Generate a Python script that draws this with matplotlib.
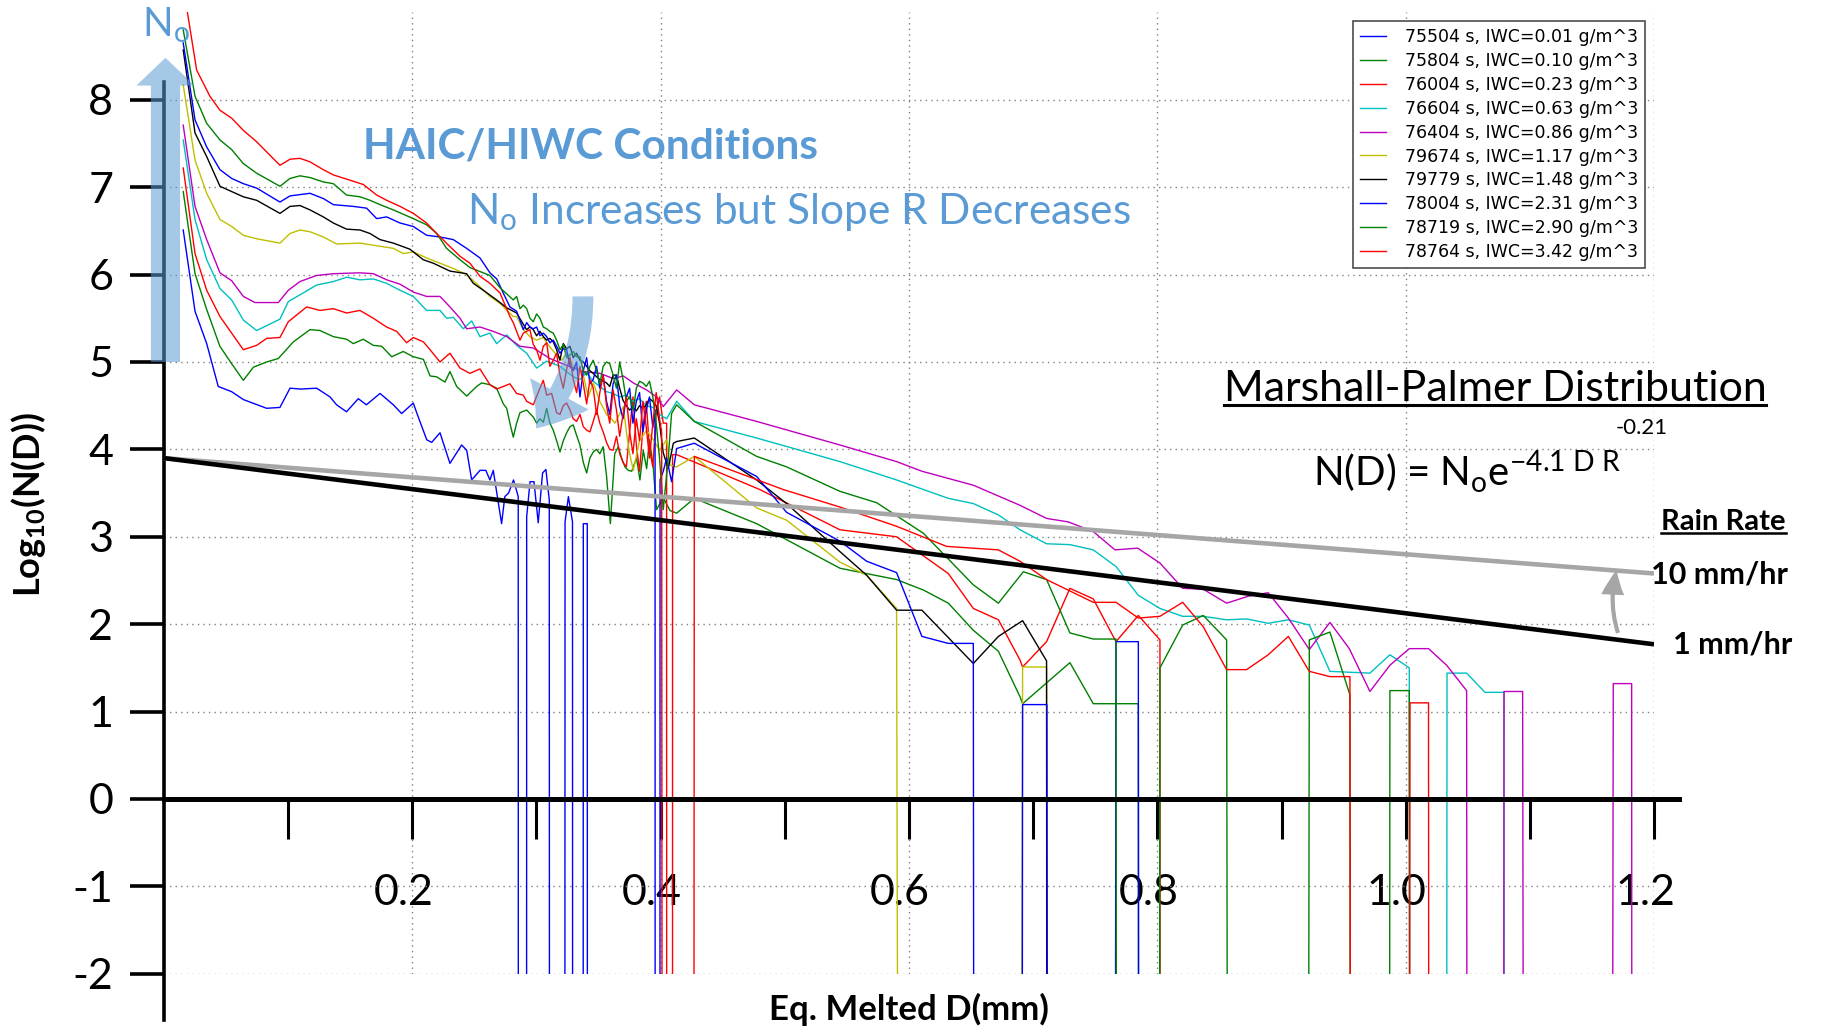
import numpy as np
import matplotlib
matplotlib.use('Agg')
import matplotlib.pyplot as plt
from matplotlib.patches import FancyArrowPatch
from matplotlib.lines import Line2D
from matplotlib.transforms import ScaledTranslation

plt.rcParams['font.family'] = 'Lato'
plt.rcParams['mathtext.fontset'] = 'custom'
plt.rcParams['mathtext.rm'] = 'Lato'
plt.rcParams['mathtext.bf'] = 'Lato:bold'
plt.rcParams['mathtext.it'] = 'Lato:italic'
plt.rcParams['axes.unicode_minus'] = False

# log10 of an empty size bin -> the line drops off the bottom of the plot
E = -300.0

# (D in mm, log10 N(D))
s75504 = [(0.0155, 6.51), (0.025, 5.58), (0.0344, 5.21), (0.0437, 4.72), (0.0545, 4.66), (0.0639, 4.57),
          (0.0827, 4.47), (0.0934, 4.48), (0.1015, 4.70), (0.110, 4.69), (0.123, 4.70), (0.1337, 4.60),
          (0.139, 4.51), (0.147, 4.43), (0.1565, 4.58), (0.163, 4.51), (0.174, 4.64), (0.1847, 4.51),
          (0.1914, 4.41), (0.2008, 4.53), (0.2035, 4.42), (0.2116, 4.11), (0.2156, 4.08), (0.2223, 4.19),
          (0.2303, 3.84), (0.2397, 4.05), (0.2438, 3.99), (0.2478, 3.65), (0.2545, 3.76), (0.2592, 3.76),
          (0.2625, 3.65), (0.2652, 3.76), (0.2719, 3.15), (0.2745, 3.46), (0.2775, 3.50), (0.2815, 3.65),
          (0.2853, 3.46), (0.2887, E), (0.2921, 3.23), (0.2948, 3.63), (0.2980, 3.63), (0.3014, 3.16),
          (0.3049, 3.73), (0.3076, 3.77), (0.3103, 3.42), (0.317, E), (0.323, 3.17), (0.3257, 3.46),
          (0.329, 3.17), (0.333, E), (0.3377, 3.15), (0.3409, 3.15), (0.345, E)]

s75804 = [(0.0155, 6.95), (0.025, 6.01), (0.0344, 5.60), (0.045, 5.18), (0.0545, 4.98), (0.0639, 4.79),
          (0.072, 4.94), (0.0827, 5.00), (0.0921, 5.04), (0.1042, 5.23), (0.1176, 5.37), (0.1256, 5.36),
          (0.1364, 5.29), (0.1471, 5.26), (0.1525, 5.21), (0.1605, 5.26), (0.1686, 5.19), (0.1753, 5.18),
          (0.1834, 5.06), (0.1927, 5.12), (0.2008, 5.06), (0.2089, 5.03), (0.2143, 4.84), (0.2196, 4.83),
          (0.2263, 4.77), (0.2303, 4.89), (0.2357, 4.72), (0.2438, 4.61), (0.2518, 4.72), (0.2558, 4.76),
          (0.2625, 4.74), (0.2679, 4.70), (0.2733, 4.52), (0.2760, 4.47), (0.2786, 4.30), (0.2813, 4.14),
          (0.2840, 4.30), (0.2867, 4.42), (0.2921, 4.45), (0.2974, 4.37), (0.3001, 4.30), (0.3028, 4.35),
          (0.3055, 4.31), (0.3082, 4.47), (0.3108, 4.30), (0.3135, 4.22), (0.3162, 4.10), (0.3189, 3.97),
          (0.3216, 4.10), (0.3243, 4.19), (0.3270, 4.26), (0.3296, 4.28), (0.3323, 4.16), (0.3350, 4.05),
          (0.3377, 3.85), (0.3404, 3.73), (0.3430, 3.90), (0.3457, 3.97), (0.3484, 4.00), (0.3510, 3.95),
          (0.3537, 4.03), (0.3564, 3.70), (0.3595, 3.15), (0.3630, 3.95), (0.3659, 4.03), (0.3686, 3.90),
          (0.3712, 3.80), (0.3739, 3.76), (0.3767, 3.75), (0.3806, 3.90), (0.3833, 3.65), (0.3860, 3.99),
          (0.3887, 3.78), (0.3910, 4.11), (0.3940, 3.80), (0.3967, 3.31), (0.4021, 3.45), (0.4075, 3.30),
          (0.4129, 3.27), (0.4271, 3.44), (0.4773, 3.15), (0.5444, 2.64), (0.5901, 2.51), (0.6117, 2.39),
          (0.6317, 2.24), (0.6518, 1.93), (0.6720, 1.69), (0.6894, 1.17), (0.6915, 1.09), (0.7296, 1.56),
          (0.7484, 1.09), (0.7847, 1.09), (0.800, E)]

s76004 = [(0.0155, 7.22), (0.025, 6.24), (0.0344, 5.82), (0.0451, 5.52), (0.0545, 5.33), (0.0639, 5.14),
          (0.0746, 5.19), (0.0827, 5.27), (0.0934, 5.28), (0.1001, 5.46), (0.1149, 5.63), (0.1256, 5.59),
          (0.1364, 5.61), (0.1471, 5.56), (0.1578, 5.59), (0.1686, 5.50), (0.1793, 5.40), (0.1874, 5.35),
          (0.1954, 5.22), (0.2008, 5.28), (0.2089, 5.23), (0.2143, 5.14), (0.2223, 5.00), (0.2303, 5.10),
          (0.2384, 4.93), (0.2464, 4.87), (0.2545, 4.92), (0.2625, 4.74), (0.2679, 4.69), (0.2733, 4.72),
          (0.2786, 4.75), (0.2840, 4.64), (0.2894, 4.62), (0.2921, 4.55), (0.2974, 4.51), (0.3028, 4.70),
          (0.3055, 4.79), (0.3082, 4.62), (0.3122, 4.64), (0.3162, 4.42), (0.3189, 4.40), (0.3216, 4.50),
          (0.3243, 4.53), (0.3270, 4.45), (0.3296, 4.35), (0.3323, 4.32), (0.3350, 4.40), (0.3377, 4.26),
          (0.3404, 4.22), (0.3430, 4.20), (0.3457, 4.32), (0.3484, 4.45), (0.3510, 4.30), (0.3537, 4.20),
          (0.3564, 4.08), (0.3590, 4.00), (0.3617, 3.99), (0.3644, 4.15), (0.3670, 3.95), (0.3697, 3.85),
          (0.3724, 3.80), (0.3750, 4.20), (0.3777, 4.60), (0.3804, 4.05), (0.3830, 3.75), (0.3857, 4.25),
          (0.3884, 4.55), (0.3910, 4.00), (0.3937, 3.80), (0.3964, 4.40), (0.3991, 4.60), (0.4021, 4.30),
          (0.4048, 4.30), (0.4070, E), (0.4096, 3.94), (0.4129, 3.94), (0.4799, 3.54), (0.5444, 3.08),
          (0.5900, 3.00), (0.6316, 2.58), (0.6518, 2.18), (0.6720, 2.05), (0.6894, 1.59), (0.6915, 1.51),
          (0.7108, 1.80), (0.7296, 2.41), (0.7484, 2.29), (0.7667, 1.80), (0.7847, 2.10), (0.8021, 1.82),
          (0.8100, E)]

s76604 = [(0.0155, 7.54), (0.025, 6.63), (0.0344, 6.17), (0.0451, 5.84), (0.0545, 5.71), (0.0639, 5.48),
          (0.0746, 5.36), (0.0934, 5.49), (0.1001, 5.69), (0.1229, 5.88), (0.1364, 5.92), (0.1471, 5.97),
          (0.1578, 5.94), (0.1686, 5.95), (0.1793, 5.90), (0.1901, 5.82), (0.2008, 5.75), (0.2115, 5.59),
          (0.2223, 5.59), (0.2276, 5.50), (0.2330, 5.51), (0.2411, 5.38), (0.2478, 5.47), (0.2545, 5.29),
          (0.2625, 5.33), (0.2679, 5.21), (0.2760, 5.31), (0.2840, 5.19), (0.2921, 5.10), (0.3001, 4.93),
          (0.3082, 5.01), (0.3189, 4.95), (0.3296, 4.83), (0.3350, 4.80), (0.3404, 4.88), (0.3457, 4.78),
          (0.3510, 4.72), (0.3564, 4.66), (0.3617, 4.64), (0.3670, 4.60), (0.3724, 4.62), (0.3777, 4.55),
          (0.3830, 4.58), (0.3884, 4.50), (0.3937, 4.48), (0.3991, 4.40), (0.4048, 4.35), (0.4129, 4.55),
          (0.4271, 4.32), (0.4773, 4.13), (0.5444, 3.86), (0.5900, 3.65), (0.6316, 3.44), (0.6518, 3.38),
          (0.6720, 3.25), (0.6894, 3.08), (0.7108, 2.92), (0.7296, 2.91), (0.7484, 2.85), (0.7667, 2.66),
          (0.7847, 2.33), (0.8021, 2.18), (0.8204, 2.09), (0.8370, 2.09), (0.8558, 2.05), (0.8719, 2.06),
          (0.8893, 2.01), (0.9055, 2.05), (0.9224, 1.99), (0.9390, 1.46), (0.9551, 1.45), (0.9712, 1.44),
          (0.9873, 1.65), (1.0029, 1.50), (1.0180, E), (1.0333, 1.44), (1.0491, 1.44), (1.0639, 1.22),
          (1.0792, 1.22), (1.0900, E)]

s76404 = [(0.0155, 7.71), (0.025, 6.78), (0.0344, 6.40), (0.0451, 6.02), (0.0545, 5.93), (0.0639, 5.75),
          (0.0733, 5.68), (0.0921, 5.68), (0.1001, 5.82), (0.1095, 5.92), (0.1229, 5.99), (0.1364, 6.01),
          (0.1578, 6.02), (0.1686, 6.01), (0.1793, 5.94), (0.1901, 5.89), (0.2008, 5.80), (0.2115, 5.75),
          (0.2223, 5.75), (0.2303, 5.63), (0.2384, 5.50), (0.2438, 5.38), (0.2545, 5.40), (0.2652, 5.35),
          (0.2760, 5.29), (0.2867, 5.18), (0.2974, 5.16), (0.3108, 5.04), (0.3243, 4.96), (0.3377, 4.89),
          (0.3511, 4.87), (0.3618, 4.81), (0.3700, 4.84), (0.3780, 4.76), (0.3887, 4.68), (0.3968, 4.60),
          (0.4021, 4.49), (0.4129, 4.68), (0.4271, 4.51), (0.4773, 4.32), (0.5444, 4.05), (0.5900, 3.86),
          (0.6104, 3.75), (0.6518, 3.59), (0.6894, 3.36), (0.7108, 3.21), (0.7283, 3.17), (0.7484, 3.06),
          (0.7659, 2.85), (0.7841, 2.87), (0.8021, 2.70), (0.8204, 2.41), (0.8370, 2.40), (0.8558, 2.24),
          (0.8732, 2.32), (0.8893, 2.36), (0.9055, 2.07), (0.9224, 1.71), (0.9390, 2.02), (0.9546, 1.72),
          (0.9712, 1.23), (0.9873, 1.53), (1.0029, 1.72), (1.0184, 1.72), (1.0330, 1.53), (1.0491, 1.24),
          (1.0640, E), (1.0792, 1.23), (1.0942, 1.23), (1.1300, E), (1.1672, 1.32), (1.1820, 1.32),
          (1.1900, E)]

s79674 = [(0.0155, 8.17), (0.025, 7.31), (0.0344, 6.93), (0.0451, 6.63), (0.0545, 6.55), (0.0639, 6.45),
          (0.0746, 6.41), (0.0934, 6.36), (0.1015, 6.47), (0.1095, 6.51), (0.1176, 6.49), (0.1283, 6.43),
          (0.1390, 6.35), (0.1579, 6.36), (0.1713, 6.33), (0.1847, 6.30), (0.1928, 6.24), (0.2008, 6.26),
          (0.2115, 6.19), (0.2223, 6.13), (0.2330, 6.07), (0.2437, 6.00), (0.2545, 5.86), (0.2625, 5.75),
          (0.2706, 5.67), (0.2813, 5.52), (0.2840, 5.52), (0.2894, 5.37), (0.2947, 5.29), (0.3001, 5.25),
          (0.3055, 5.28), (0.3108, 5.17), (0.3162, 5.08), (0.3202, 5.02), (0.3243, 5.10), (0.3296, 4.95),
          (0.3350, 4.91), (0.3377, 4.85), (0.3417, 4.60), (0.3457, 4.76), (0.3510, 4.55), (0.3564, 4.40),
          (0.3592, 4.37), (0.3632, 4.30), (0.3700, 4.49), (0.3724, 4.20), (0.3750, 3.95), (0.3780, 3.76),
          (0.3830, 4.10), (0.3887, 4.22), (0.3941, 4.11), (0.3991, 3.99), (0.4048, 4.11), (0.4075, 3.82),
          (0.4129, 3.80), (0.4271, 3.92), (0.4773, 3.33), (0.5014, 3.19), (0.5444, 2.71), (0.5659, 2.56),
          (0.5900, 2.18), (0.6400, E), (0.6915, 1.51), (0.7108, 1.51), (0.7300, E)]

s79779 = [(0.0155, 8.57), (0.025, 7.62), (0.0344, 7.35), (0.0451, 7.01), (0.0545, 6.95), (0.0639, 6.89),
          (0.0746, 6.85), (0.0934, 6.70), (0.1015, 6.78), (0.1095, 6.79), (0.1176, 6.74), (0.1283, 6.66),
          (0.1364, 6.59), (0.1470, 6.52), (0.1579, 6.51), (0.1659, 6.47), (0.1740, 6.40), (0.1847, 6.36),
          (0.1981, 6.29), (0.2088, 6.17), (0.2169, 6.13), (0.2303, 6.04), (0.2437, 6.01), (0.2491, 5.90),
          (0.2572, 5.82), (0.2679, 5.71), (0.2760, 5.62), (0.2840, 5.56), (0.2920, 5.37), (0.2947, 5.40),
          (0.2974, 5.37), (0.3001, 5.30), (0.3028, 5.35), (0.3055, 5.29), (0.3082, 5.25), (0.3108, 5.27),
          (0.3135, 5.23), (0.3162, 5.14), (0.3189, 5.02), (0.3216, 5.21), (0.3243, 5.15), (0.3270, 5.18),
          (0.3296, 5.05), (0.3323, 5.10), (0.3350, 5.02), (0.3377, 5.00), (0.3404, 4.95), (0.3430, 4.90),
          (0.3457, 4.87), (0.3484, 4.83), (0.3510, 4.80), (0.3537, 4.78), (0.3564, 4.76), (0.3590, 4.72),
          (0.3617, 4.85), (0.3644, 4.85), (0.3670, 4.70), (0.3697, 4.56), (0.3724, 4.50), (0.3750, 4.45),
          (0.3777, 4.48), (0.3804, 4.44), (0.3830, 4.50), (0.3857, 4.47), (0.3884, 4.51), (0.3910, 4.58),
          (0.3937, 4.55), (0.3964, 4.50), (0.3991, 4.30), (0.4021, 3.96), (0.4061, 3.78), (0.4102, 4.07),
          (0.4129, 4.09), (0.4271, 4.13), (0.4773, 3.65), (0.5014, 3.38), (0.5444, 2.83), (0.5659, 2.56),
          (0.5900, 2.16), (0.6104, 2.16), (0.6518, 1.55), (0.6720, 1.86), (0.6915, 2.04), (0.7108, 1.58),
          (0.7200, E)]

s78004 = [(0.0155, 8.65), (0.025, 7.77), (0.0344, 7.46), (0.0451, 7.20), (0.0545, 7.10), (0.0639, 7.04),
          (0.0746, 6.99), (0.0934, 6.83), (0.1015, 6.90), (0.1176, 6.93), (0.1283, 6.87), (0.1364, 6.80),
          (0.1525, 6.78), (0.1632, 6.76), (0.1713, 6.64), (0.1793, 6.66), (0.1901, 6.59), (0.2008, 6.55),
          (0.2115, 6.45), (0.2223, 6.43), (0.2330, 6.40), (0.2437, 6.30), (0.2545, 6.19), (0.2625, 6.02),
          (0.2680, 5.95), (0.2732, 5.79), (0.2786, 5.63), (0.2840, 5.58), (0.2894, 5.37), (0.2921, 5.45),
          (0.2947, 5.40), (0.2974, 5.38), (0.3001, 5.40), (0.3028, 5.30), (0.3055, 5.33), (0.3082, 5.29),
          (0.3108, 5.22), (0.3135, 5.25), (0.3162, 5.18), (0.3189, 5.10), (0.3216, 5.15), (0.3243, 5.14),
          (0.3270, 4.95), (0.3296, 4.90), (0.3323, 5.00), (0.3350, 4.60), (0.3377, 4.90), (0.3404, 5.05),
          (0.3430, 4.75), (0.3457, 4.80), (0.3484, 4.95), (0.3510, 4.70), (0.3537, 4.85), (0.3564, 4.55),
          (0.3590, 4.40), (0.3617, 4.75), (0.3644, 4.85), (0.3670, 4.50), (0.3697, 4.35), (0.3724, 4.60),
          (0.3750, 4.70), (0.3777, 4.30), (0.3804, 4.55), (0.3830, 4.65), (0.3857, 4.20), (0.3884, 4.45),
          (0.3910, 4.60), (0.3937, 4.25), (0.3955, 4.45), (0.3975, E), (0.3995, 3.65), (0.4021, 3.75),
          (0.4048, 3.90), (0.4088, 3.63), (0.4129, 4.01), (0.4271, 4.07), (0.4773, 3.69), (0.5014, 3.28),
          (0.5444, 2.95), (0.5659, 2.72), (0.5900, 2.59), (0.6104, 1.86), (0.6316, 1.78), (0.6518, 1.78),
          (0.6720, E), (0.6915, 1.08), (0.7110, 1.08), (0.7400, E), (0.7667, 1.80), (0.7847, 1.80),
          (0.7950, E)]

s78719 = [(0.0155, 8.80), (0.025, 8.04), (0.0344, 7.73), (0.0451, 7.54), (0.0545, 7.43), (0.0639, 7.27),
          (0.0746, 7.16), (0.0934, 7.01), (0.1015, 7.10), (0.1095, 7.13), (0.1176, 7.11), (0.1283, 7.06),
          (0.1364, 7.04), (0.1470, 6.91), (0.1579, 6.89), (0.1659, 6.85), (0.1740, 6.80), (0.1847, 6.74),
          (0.2008, 6.64), (0.2115, 6.57), (0.2196, 6.47), (0.2276, 6.30), (0.2384, 6.17), (0.2464, 6.08),
          (0.2625, 5.99), (0.2706, 5.85), (0.2813, 5.71), (0.2840, 5.75), (0.2867, 5.61), (0.2894, 5.65),
          (0.2921, 5.61), (0.2947, 5.50), (0.2974, 5.46), (0.3001, 5.55), (0.3028, 5.50), (0.3055, 5.40),
          (0.3082, 5.38), (0.3108, 5.35), (0.3135, 5.33), (0.3162, 5.25), (0.3189, 5.14), (0.3216, 5.20),
          (0.3243, 5.05), (0.3270, 5.08), (0.3296, 5.12), (0.3323, 5.06), (0.3350, 5.06), (0.3377, 4.90),
          (0.3404, 4.85), (0.3430, 4.95), (0.3457, 5.02), (0.3484, 4.90), (0.3510, 4.75), (0.3537, 4.95),
          (0.3564, 5.00), (0.3590, 4.98), (0.3617, 4.85), (0.3644, 4.70), (0.3670, 5.00), (0.3697, 4.80),
          (0.3724, 4.55), (0.3750, 4.60), (0.3780, 4.45), (0.3804, 4.70), (0.3830, 4.78), (0.3857, 4.76),
          (0.3884, 4.72), (0.3910, 4.78), (0.3937, 4.60), (0.3964, 4.30), (0.3991, 3.90), (0.4021, 3.31),
          (0.4061, 3.90), (0.4088, 4.41), (0.4129, 4.51), (0.4271, 4.32), (0.4773, 3.92), (0.5014, 3.80),
          (0.5444, 3.52), (0.5739, 3.39), (0.6116, 3.04), (0.6518, 2.45), (0.6720, 2.24), (0.6921, 2.60),
          (0.7108, 2.51), (0.7296, 1.90), (0.7484, 1.83), (0.7667, 1.83), (0.7850, E), (0.8021, 1.50),
          (0.8204, 1.99), (0.8370, 2.10), (0.8558, 1.82), (0.8900, E), (0.9224, 1.82), (0.9390, 1.91),
          (0.9551, 1.19), (0.9710, E), (0.9873, 1.24), (1.0029, 1.24), (1.0200, E)]

s78764 = [(0.0155, 9.30), (0.0263, 8.34), (0.0370, 8.04), (0.0451, 7.88), (0.0545, 7.79), (0.0639, 7.65),
          (0.0746, 7.52), (0.0934, 7.25), (0.1015, 7.32), (0.1095, 7.33), (0.1176, 7.29), (0.1283, 7.20),
          (0.1364, 7.14), (0.1498, 7.08), (0.1606, 7.03), (0.1713, 6.91), (0.1793, 6.85), (0.1901, 6.78),
          (0.2008, 6.70), (0.2115, 6.59), (0.2196, 6.47), (0.2303, 6.32), (0.2384, 6.21), (0.2464, 6.13),
          (0.2545, 5.98), (0.2625, 5.90), (0.2706, 5.79), (0.2786, 5.52), (0.2813, 5.45), (0.2867, 5.25),
          (0.2894, 5.33), (0.2947, 5.37), (0.2974, 5.20), (0.3001, 5.14), (0.3028, 5.02), (0.3055, 5.18),
          (0.3082, 5.22), (0.3108, 4.95), (0.3135, 5.02), (0.3162, 5.10), (0.3189, 4.85), (0.3216, 4.70),
          (0.3243, 4.92), (0.3270, 5.05), (0.3296, 4.80), (0.3323, 4.65), (0.3350, 4.95), (0.3377, 4.75),
          (0.3404, 4.52), (0.3430, 4.80), (0.3457, 4.70), (0.3484, 4.40), (0.3510, 4.65), (0.3537, 4.85),
          (0.3564, 4.50), (0.3590, 4.30), (0.3617, 4.68), (0.3644, 4.45), (0.3670, 4.15), (0.3697, 4.40),
          (0.3724, 4.60), (0.3750, 4.20), (0.3777, 3.95), (0.3804, 4.35), (0.3830, 4.10), (0.3857, 4.55),
          (0.3884, 4.25), (0.3910, 3.90), (0.3937, 4.30), (0.3964, 4.65), (0.3991, 4.35), (0.4008, 4.20),
          (0.4150, E), (0.4271, 3.92), (0.4988, 3.54), (0.5444, 3.34), (0.5900, 3.12), (0.6303, 2.89),
          (0.6720, 2.85), (0.6894, 2.72), (0.7108, 2.51), (0.7484, 2.25), (0.7667, 2.25), (0.7847, 2.07),
          (0.8021, 2.09), (0.8204, 2.25), (0.8370, 1.97), (0.8558, 1.48), (0.8719, 1.48), (0.8893, 1.65),
          (0.9055, 1.86), (0.9224, 1.46), (0.9390, 1.40), (0.9551, 1.40), (0.9790, E), (1.0035, 1.10),
          (1.0184, 1.10), (1.0300, E)]

series = [s75504, s75804, s76004, s76604, s76404, s79674, s79779, s78004, s78719, s78764]
labels = ['75504 s, IWC=0.01 g/m^3', '75804 s, IWC=0.10 g/m^3', '76004 s, IWC=0.23 g/m^3',
          '76604 s, IWC=0.63 g/m^3', '76404 s, IWC=0.86 g/m^3', '79674 s, IWC=1.17 g/m^3',
          '79779 s, IWC=1.48 g/m^3', '78004 s, IWC=2.31 g/m^3', '78719 s, IWC=2.90 g/m^3',
          '78764 s, IWC=3.42 g/m^3']
colors = ['b', 'g', 'r', 'c', 'm', 'y', 'k', 'b', 'g', 'r']

# Marshall-Palmer lines (straight in log space)
mp_d = [0.0, 1.2]
mp_1mm = [3.90, 1.77]
mp_10mm = [3.90, 2.58]

x_major = [0.2, 0.4, 0.6, 0.8, 1.0, 1.2]
x_minor = [0.1, 0.3, 0.5, 0.7, 0.9, 1.1]
y_ticks = [-2, -1, 0, 1, 2, 3, 4, 5, 6, 7, 8]

BLUE = '#5b9bd5'

fig = plt.figure(figsize=(18.22, 10.31), dpi=100)
ax = fig.add_axes([0.0900, 0.0555, 0.8178, 0.9325])
ax.set_xlim(0, 1.2)
ax.set_ylim(-2, 9)

for s, c, lab in zip(series, colors, labels):
    d, v = np.array(s).T
    ax.plot(d, v, color=c, lw=1.0, label=lab, zorder=3)

ax.plot(mp_d, mp_10mm, color='#a6a6a6', lw=3.3, zorder=4, solid_capstyle='butt')
ax.plot(mp_d, mp_1mm, color='black', lw=3.3, zorder=5, solid_capstyle='butt')

# axes in the "slide" style: thick black axis lines crossing at zero
for side in ['top', 'right']:
    ax.spines[side].set_visible(False)
ax.spines['left'].set_linewidth(2.6)
ax.spines['left'].set_bounds(-2.53, 8.2)
ax.spines['bottom'].set_position(('data', 0))
ax.spines['bottom'].set_linewidth(3.6)
ax.spines['bottom'].set_bounds(0, 1.22)
ax.spines['bottom'].set_zorder(6)

ax.set_xticks(x_major)
ax.set_xticks(x_minor, minor=True)
ax.set_xticklabels(['%.1f' % t for t in x_major])
ax.set_yticks(y_ticks)
ax.set_yticklabels([str(t) for t in y_ticks])
ax.tick_params(axis='x', which='both', direction='out', length=29, width=2.2, pad=25, labelsize=31)
ax.tick_params(axis='y', direction='out', length=24.5, width=2.6, pad=12, labelsize=31)
for lab in ax.get_xticklabels():
    lab.set_transform(lab.get_transform() + ScaledTranslation(-0.09, 0, fig.dpi_scale_trans))

ax.grid(True, which='major', color='0.5', linestyle=(0, (1, 3)), linewidth=1.0)
ax.set_axisbelow(True)

leg = ax.legend(loc='upper right', prop={'family': 'DejaVu Sans', 'size': 12.5}, labelspacing=0.34,
                handlelength=1.5, handletextpad=1.1, fancybox=False, edgecolor='0.3',
                framealpha=1, borderaxespad=0.5)
leg.get_frame().set_linewidth(1.2)
leg.set_zorder(7)

# translucent blue arrows
ax.add_patch(FancyArrowPatch((0.0012, 5.0), (0.0012, 8.48),
                             arrowstyle='simple,head_length=2.0,head_width=4.2,tail_width=2.1',
                             mutation_scale=10, color=BLUE, alpha=0.55, lw=0, shrinkA=0, shrinkB=0,
                             zorder=8, clip_on=False))
ax.add_patch(FancyArrowPatch((0.3374, 5.75), (0.2996, 4.24), connectionstyle='arc3,rad=-0.18',
                             arrowstyle='simple,head_length=3.0,head_width=4.8,tail_width=1.5',
                             mutation_scale=10, color=BLUE, alpha=0.55, lw=0, shrinkA=0, shrinkB=0,
                             zorder=8))
# grey rain-rate arrow
ax.add_patch(FancyArrowPatch((1.171, 1.90), (1.170, 2.62), connectionstyle='arc3,rad=-0.15',
                             arrowstyle='simple,head_length=1.8,head_width=1.65,tail_width=0.3',
                             mutation_scale=10, color='#a6a6a6', lw=0, shrinkA=0, shrinkB=0,
                             zorder=8, clip_on=False))

# annotations
fig.text(0.0779, 0.9641, r'N$_\mathrm{o}$', fontsize=29, color=BLUE, ha='left', va='baseline')
fig.text(0.1992, 0.8458, 'HAIC/HIWC Conditions', fontsize=30.5, fontweight='bold', color=BLUE,
         ha='left', va='baseline')
fig.text(0.2563, 0.7827, r'N$_\mathrm{o}$ Increases but Slope R Decreases', fontsize=30.5, color=BLUE,
         ha='left', va='baseline')
t_mp = fig.text(0.8205, 0.611, 'Marshall-Palmer Distribution', fontsize=31, ha='center', va='baseline')
fig.text(0.7206, 0.5286, r'N(D) = N$_\mathrm{o}$e$^{\mathrm{-4.1\ D\ R}}$', fontsize=29,
         ha='left', va='baseline')
fig.text(0.8865, 0.5849, '-0.21', fontsize=16, ha='left', va='center')
t_rr = fig.text(0.946, 0.486, 'Rain Rate', fontsize=21, fontweight='bold', ha='center', va='baseline')
fig.text(0.906, 0.4345, '10 mm/hr', fontsize=22, fontweight='bold', ha='left', va='baseline')
fig.text(0.918, 0.3657, '1 mm/hr', fontsize=22, fontweight='bold', ha='left', va='baseline')

fig.text(0.0159, 0.5102, r'Log$_\mathbf{10}$(N(D))', fontsize=26, fontweight='bold', rotation=90,
         ha='center', va='center')
fig.text(0.4989, 0.0213, 'Eq. Melted D(mm)', fontsize=25, fontweight='bold', ha='center', va='center')

# underline two headings
fig.canvas.draw()
for t, gap, lw in [(t_mp, 3, 2.2), (t_rr, 2, 1.8)]:
    bb = t.get_window_extent().transformed(fig.transFigure.inverted())
    y = bb.y0 + gap / 1031
    fig.add_artist(Line2D([bb.x0, bb.x1], [y, y], transform=fig.transFigure, color='black', lw=lw))

fig.savefig('out.png', dpi=100)
